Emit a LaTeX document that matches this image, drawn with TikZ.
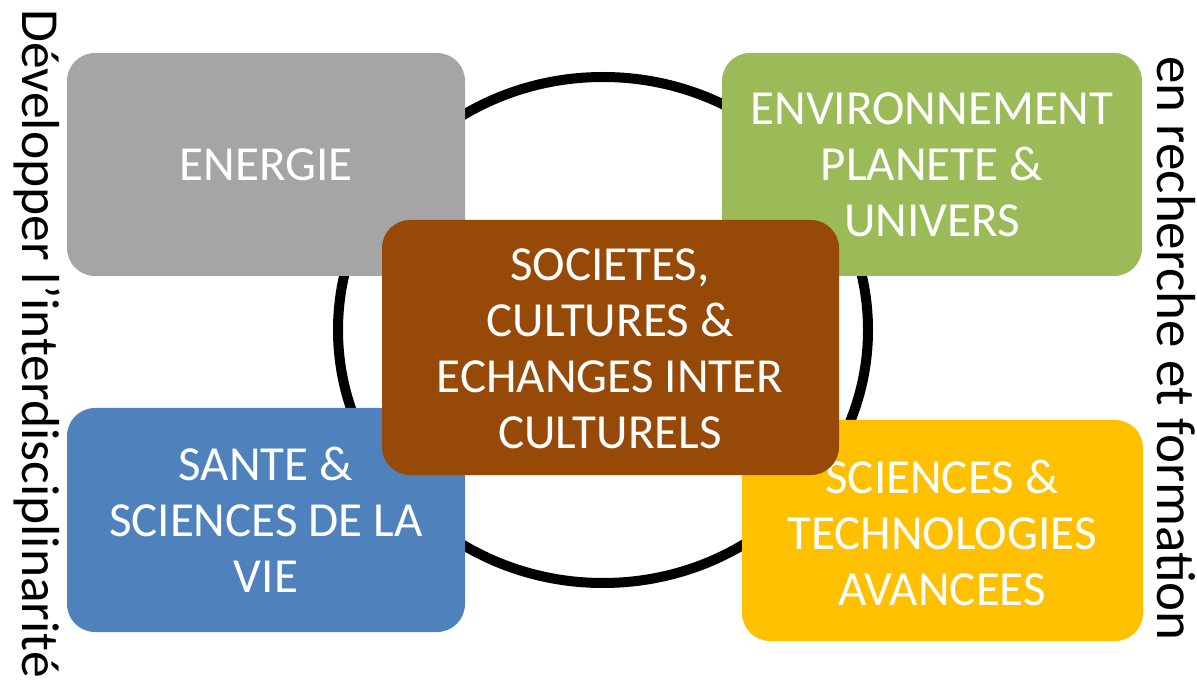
\documentclass[tikz,border=0pt]{standalone}
\usepackage{fontspec}
\setmainfont{Carlito}
\definecolor{cgray}{HTML}{A5A5A5}
\definecolor{cgreen}{HTML}{9BBB59}
\definecolor{cbrown}{HTML}{974A08}
\definecolor{cblue}{HTML}{4F81BD}
\definecolor{cyellow}{HTML}{FFC000}
\tikzset{
  themebox/.style={rounded corners=28pt, inner sep=0pt, text=white, align=center,
    font=\fontsize{49}{56}\selectfont},
  sidetext/.style={rotate=-90, anchor=base west, inner sep=0pt, text=black}
}
\begin{document}
\begin{tikzpicture}[x=1pt,y=-1pt]
\useasboundingbox[fill=white] (0,0) rectangle (1197,692);
% central ring
\draw[line width=10pt] (603,330) ellipse [x radius=265pt, y radius=253pt];
% theme boxes
\fill[cgray, rounded corners=28pt] (67,53) rectangle (465,276);
\node[themebox] (energie) at (266,164.5) {ENERGIE};
\fill[cgreen, rounded corners=28pt] (722,53) rectangle (1142,276);
\node[themebox] (env) at (932,164.5) {ENVIRONNEMENT\\PLANETE \&\\UNIVERS};
\fill[cblue, rounded corners=28pt] (67,408) rectangle (465,632);
\node[themebox] (sante) at (266,520) {SANTE \&\\SCIENCES DE LA\\VIE};
\fill[cyellow, rounded corners=28pt] (742,420) rectangle (1143,641);
\node[themebox] (sciences) at (942,533) {SCIENCES \&\\TECHNOLOGIES\\AVANCEES};
\fill[cbrown, rounded corners=28pt] (382,220) rectangle (839,475);
\node[themebox] (societes) at (610,349) {SOCIETES,\\CULTURES \&\\ECHANGES INTER\\CULTURELS};
% side texts
\node[sidetext, font=\fontsize{53.5}{60}\selectfont] (left) at (22,9) {Développer l'interdisciplinarité};
\node[sidetext, font=\fontsize{55}{60}\selectfont] (right) at (1157,56) {en recherche et formation};
\end{tikzpicture}
\end{document}
